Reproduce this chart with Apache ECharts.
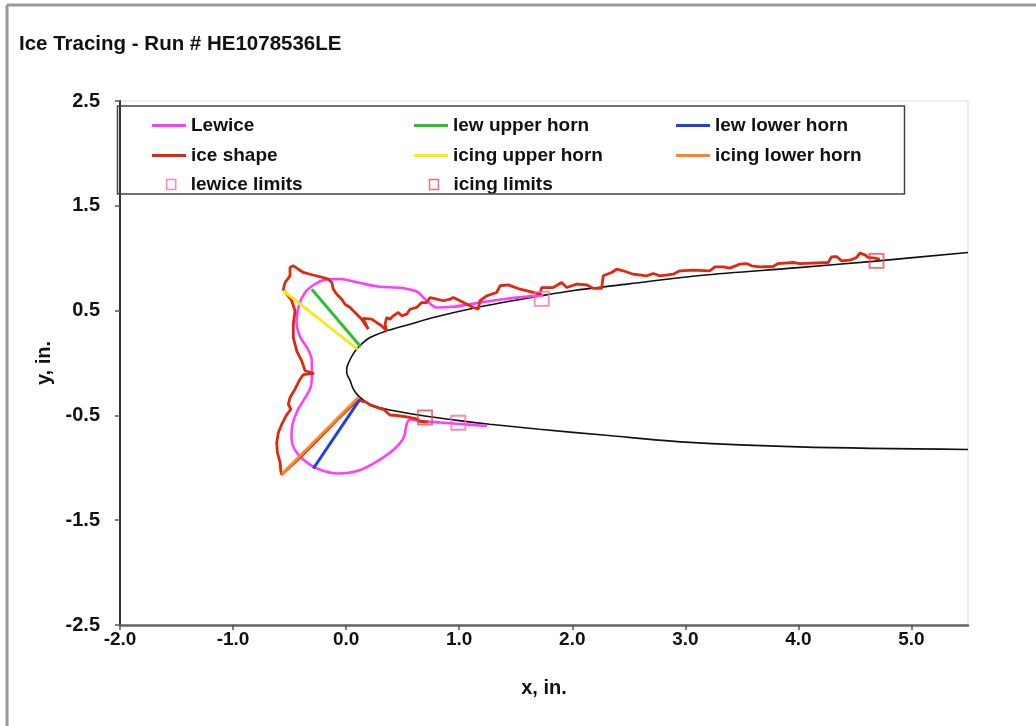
<!DOCTYPE html>
<html>
<head>
<meta charset="utf-8">
<title>Ice Tracing - Run # HE1078536LE</title>
<script src="https://cdn.jsdelivr.net/npm/echarts@6/dist/echarts.min.js"></script>
<style>
  html, body { margin: 0; padding: 0; background: #ffffff; }
  #chart { width: 1036px; height: 726px; }
</style>
</head>
<body>
<div id="chart"></div>
<script>
// Airfoil contour, trailing edge (upper) -> leading edge -> trailing edge (lower), inches
const airfoil = [
  [5.5, 1.055], [4.66, 0.97], [4.0, 0.91], [3.13, 0.835], [2.5, 0.755], [2.0, 0.69],
  [1.744, 0.645], [1.155, 0.53], [0.771, 0.434], [0.565, 0.37], [0.359, 0.307],
  [0.211, 0.243], [0.108, 0.152], [0.064, 0.09], [0.025, 0.01], [0.006, -0.05],
  [0.005, -0.09], [0.015, -0.125], [0.034, -0.165], [0.064, -0.25], [0.108, -0.313],
  [0.211, -0.393], [0.359, -0.441], [0.506, -0.472], [0.742, -0.513], [1.0, -0.55],
  [1.27, -0.584], [1.71, -0.632], [2.3, -0.69], [3.0, -0.755], [4.0, -0.80], [5.5, -0.825]
];

// LEWICE predicted ice contour
const lewice = [
  [1.745, 0.645], [1.387, 0.609], [1.095, 0.561], [0.945, 0.536], [0.80, 0.53],
  [0.713, 0.594], [0.665, 0.645], [0.627, 0.682], [0.494, 0.716], [0.282, 0.730],
  [0.105, 0.768], [-0.054, 0.802], [-0.187, 0.794], [-0.275, 0.754], [-0.363, 0.673],
  [-0.416, 0.553], [-0.439, 0.396], [-0.408, 0.253], [-0.341, 0.138], [-0.304, 0.029],
  [-0.302, -0.100], [-0.315, -0.234], [-0.372, -0.348], [-0.430, -0.453], [-0.474, -0.587],
  [-0.483, -0.720], [-0.456, -0.825], [-0.378, -0.924], [-0.248, -1.011], [-0.072, -1.054],
  [0.105, -1.029], [0.271, -0.940], [0.417, -0.830], [0.506, -0.720], [0.530, -0.615],
  [0.543, -0.563], [0.574, -0.539], [0.653, -0.553], [0.830, -0.568], [1.007, -0.582],
  [1.246, -0.601]
];

// Traced ice shape, lower limit -> lower horn -> upper horn -> upper limit
const iceShape = [
  [0.724, -0.563], [0.653, -0.558], [0.624, -0.534], [0.536, -0.515], [0.447, -0.501],
  [0.388, -0.496], [0.362, -0.472], [0.335, -0.444], [0.273, -0.425], [0.211, -0.401],
  [0.182, -0.377], [0.138, -0.363], [0.108, -0.348],
  [-0.072, -0.534], [-0.248, -0.730], [-0.425, -0.921], [-0.569, -1.064],
  [-0.578, -1.029], [-0.584, -0.949], [-0.608, -0.854], [-0.614, -0.759], [-0.599, -0.663],
  [-0.569, -0.584], [-0.531, -0.504], [-0.490, -0.441], [-0.511, -0.393], [-0.496, -0.329],
  [-0.452, -0.250], [-0.408, -0.155], [-0.378, -0.110], [-0.284, -0.100], [-0.363, -0.074],
  [-0.393, 0.021], [-0.437, 0.116], [-0.467, 0.243], [-0.467, 0.370], [-0.452, 0.498],
  [-0.481, 0.594], [-0.525, 0.656], [-0.555, 0.704], [-0.540, 0.768], [-0.496, 0.832],
  [-0.496, 0.911], [-0.467, 0.927], [-0.423, 0.895], [-0.378, 0.864], [-0.319, 0.847],
  [-0.231, 0.823], [-0.157, 0.800], [-0.127, 0.768], [-0.113, 0.704], [-0.083, 0.656],
  [-0.039, 0.609], [-0.010, 0.561], [0.034, 0.530], [0.079, 0.482], [0.138, 0.418],
  [0.167, 0.370], [0.196, 0.323], [0.149, 0.425], [0.226, 0.418], [0.271, 0.386],
  [0.309, 0.358], [0.359, 0.307], [0.344, 0.370], [0.359, 0.434], [0.388, 0.418],
  [0.417, 0.450], [0.462, 0.482], [0.492, 0.450], [0.536, 0.466], [0.565, 0.513],
  [0.624, 0.530], [0.668, 0.577], [0.713, 0.577], [0.742, 0.625], [0.801, 0.609],
  [0.859, 0.594], [0.919, 0.609], [0.948, 0.625], [1.007, 0.594], [1.125, 0.530],
  [1.169, 0.513], [1.184, 0.594], [1.243, 0.641], [1.332, 0.673], [1.361, 0.737],
  [1.434, 0.746], [1.538, 0.704], [1.655, 0.673], [1.714, 0.656], [1.729, 0.720],
  [1.832, 0.720], [1.906, 0.768], [1.951, 0.720], [2.039, 0.752], [2.127, 0.746],
  [2.186, 0.712], [2.260, 0.712], [2.274, 0.832], [2.348, 0.864], [2.393, 0.895],
  [2.451, 0.880], [2.539, 0.847], [2.658, 0.832], [2.716, 0.854], [2.775, 0.832],
  [2.893, 0.847], [2.952, 0.880], [3.070, 0.886], [3.218, 0.880], [3.262, 0.918],
  [3.335, 0.918], [3.394, 0.905], [3.483, 0.943], [3.542, 0.949], [3.586, 0.927],
  [3.660, 0.918], [3.777, 0.921], [3.821, 0.949], [3.954, 0.959], [4.013, 0.949],
  [4.264, 0.959], [4.294, 1.013], [4.338, 1.016], [4.382, 0.975], [4.455, 0.981],
  [4.515, 1.007], [4.544, 1.048], [4.588, 1.032], [4.617, 1.007], [4.676, 1.000],
  [4.721, 0.990]
];

// Horn lines (tip -> surface)
const lewUpperHorn = [[-0.304, 0.704], [0.129, 0.155]];
const lewLowerHorn = [[-0.290, -1.007], [0.123, -0.345]];
const icingUpperHorn = [[-0.555, 0.689], [0.099, 0.132]];
const icingLowerHorn = [[-0.569, -1.061], [0.108, -0.329]];

// Impingement limits
const lewiceLimits = [[1.730, 0.612], [0.992, -0.570]];
const icingLimits = [[4.691, 0.975], [0.698, -0.520]];

// Axis ticks
const xTicks = [-2, -1, 0, 1, 2, 3, 4, 5];
const yTicks = [-2.5, -1.5, -0.5, 0.5, 1.5, 2.5];

const FONT = '"Liberation Sans", Arial, Helvetica, sans-serif';
const TEXT = '#111111';

const COLORS = {
  lewice: '#ff3dff',
  ice: '#e0280f',
  lewUpper: '#2fbf2f',
  lewLower: '#1f3fe0',
  icingUpper: '#f7ea1a',
  icingLower: '#ff8224',
  lewLimit: '#ff6aaa',
  icingLimit: '#e8485a'
};

const legendText = {
  fontFamily: FONT, fontSize: 19, fontWeight: 'bold', color: TEXT,
  width: 200, lineHeight: 18
};

// line-style legend entries: a short coloured bar
const barItem = (name, color) => ({ name, icon: 'rect', itemStyle: { color, borderWidth: 0 } });
// limit legend entries: hollow square
const boxItem = (name, color) => ({
  name, icon: 'rect',
  itemStyle: { color: 'rgba(0,0,0,0)', borderColor: color, borderWidth: 1.5 }
});

const lineSeries = (name, data, color, width, extra) => Object.assign({
  name, type: 'line', data, symbol: 'none', showSymbol: false,
  lineStyle: { color, width }, itemStyle: { color },
  animation: false, z: 3
}, extra || {});

const limitSeries = (name, data, color) => ({
  name, type: 'scatter', data, symbol: 'rect', symbolSize: 14,
  itemStyle: { color: 'rgba(0,0,0,0)', borderColor: color, borderWidth: 1.8 },
  animation: false, z: 6
});

const chart = echarts.init(document.getElementById('chart'), null, { renderer: 'canvas' });

chart.setOption({
  backgroundColor: '#ffffff',
  animation: false,
  title: {
    text: 'Ice Tracing - Run # HE1078536LE',
    left: 19, top: 34, padding: 0,
    textStyle: { fontFamily: FONT, fontSize: 20.5, fontWeight: 'bold', color: TEXT }
  },
  graphic: [
    { type: 'line', shape: { x1: 7, y1: 5, x2: 1036, y2: 5 }, style: { stroke: '#9a9a9a', lineWidth: 3 }, silent: true },
    { type: 'line', shape: { x1: 7, y1: 5, x2: 7, y2: 726 }, style: { stroke: '#9a9a9a', lineWidth: 3 }, silent: true },
    { type: 'rect', shape: { x: 117.5, y: 106, width: 787, height: 88 },
      style: { fill: 'rgba(0,0,0,0)', stroke: '#444444', lineWidth: 1.5 }, silent: true, z: 10 }
  ],
  legend: [
    {
      data: [barItem('Lewice', COLORS.lewice), barItem('lew upper horn', COLORS.lewUpper),
             barItem('lew lower horn', COLORS.lewLower)],
      left: 152, top: 116, padding: 0, orient: 'horizontal',
      itemWidth: 34, itemHeight: 3, itemGap: 23, selectedMode: false,
      textStyle: legendText
    },
    {
      data: [barItem('ice shape', COLORS.ice), barItem('icing upper horn', COLORS.icingUpper),
             barItem('icing lower horn', COLORS.icingLower)],
      left: 152, top: 146, padding: 0, orient: 'horizontal',
      itemWidth: 34, itemHeight: 3, itemGap: 23, selectedMode: false,
      textStyle: legendText
    },
    {
      data: [boxItem('lewice limits', COLORS.lewLimit), boxItem('icing limits', COLORS.icingLimit)],
      left: 166, top: 175, padding: 0, orient: 'horizontal',
      itemWidth: 9, itemHeight: 10, itemGap: 38, selectedMode: false,
      textStyle: Object.assign({}, legendText, { padding: [0, 0, 0, 10] })
    }
  ],
  grid: {
    left: 120, right: 68, top: 101, bottom: 101,
    show: true, borderColor: '#dcdcdc', borderWidth: 1, backgroundColor: '#ffffff'
  },
  xAxis: {
    type: 'value', min: -2, max: 5.5,
    name: 'x, in.', nameLocation: 'middle', nameGap: 53,
    nameTextStyle: { fontFamily: FONT, fontSize: 20, fontWeight: 'bold', color: TEXT },
    axisLine: { show: true, onZero: false, lineStyle: { color: '#666666', width: 2.5 } },
    axisTick: { show: true, inside: false, length: 5, customValues: xTicks,
      lineStyle: { color: '#555555', width: 1.5 } },
    axisLabel: { customValues: xTicks, margin: 5,
      formatter: v => v.toFixed(1),
      fontFamily: FONT, fontSize: 19, fontWeight: 'bold', color: TEXT },
    splitLine: { show: false }
  },
  yAxis: {
    type: 'value', min: -2.5, max: 2.5,
    name: 'y, in.', nameLocation: 'middle', nameGap: 61, nameRotate: 90,
    nameTextStyle: { fontFamily: FONT, fontSize: 20, fontWeight: 'bold', color: TEXT },
    axisLine: { show: true, onZero: false, lineStyle: { color: '#333333', width: 2 } },
    axisTick: { show: true, inside: false, length: 5, customValues: yTicks,
      lineStyle: { color: '#555555', width: 1.5 } },
    axisLabel: { customValues: yTicks, margin: 20,
      formatter: v => v.toFixed(1),
      fontFamily: FONT, fontSize: 20, fontWeight: 'bold', color: TEXT },
    splitLine: { show: false }
  },
  series: [
    lineSeries('airfoil', airfoil, '#111111', 1.6, { smooth: 0.35, z: 2 }),
    lineSeries('Lewice', lewice, COLORS.lewice, 2.6, { smooth: 0.3 }),
    lineSeries('ice shape', iceShape, COLORS.ice, 2.8, { z: 4 }),
    lineSeries('lew upper horn', lewUpperHorn, COLORS.lewUpper, 3, { z: 5 }),
    lineSeries('icing upper horn', icingUpperHorn, COLORS.icingUpper, 3, { z: 5 }),
    lineSeries('lew lower horn', lewLowerHorn, COLORS.lewLower, 3, { z: 5 }),
    lineSeries('icing lower horn', icingLowerHorn, COLORS.icingLower, 3, { z: 5 }),
    limitSeries('lewice limits', lewiceLimits, COLORS.lewLimit),
    limitSeries('icing limits', icingLimits, COLORS.icingLimit)
  ]
});
</script>
</body>
</html>
